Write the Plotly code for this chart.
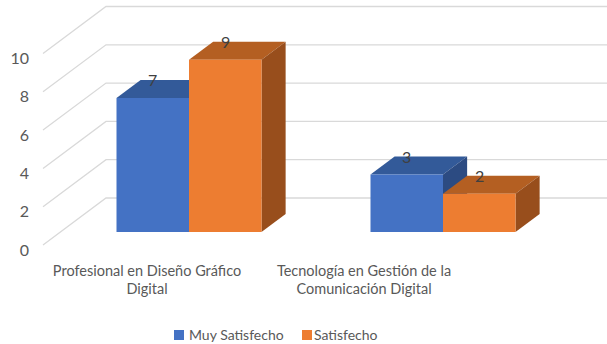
import plotly.graph_objects as go

# ---- data -------------------------------------------------------------
categories = ["Profesional en Diseño Gráfico<br>Digital",
              "Tecnología en Gestión de la<br>Comunicación Digital"]
series_names = ["Muy Satisfecho", "Satisfecho"]
muy_satisfecho = [7, 3]
satisfecho = [9, 2]
y_ticks = [0, 2, 4, 6, 8, 10]

# ---- styling / pseudo-3D geometry ------------------------------------
FONT = "Lato"
TEXT_GREY = "#595959"
LABEL_GREY = "#404040"
GRID = "#D9D9D9"
front_colors = ["#4472C4", "#ED7D31"]
top_colors = ["#335A99", "#B45F22"]
side_colors = ["#2C4B82", "#984E1C"]

W, H = 607, 344
M_L, M_R, M_T, M_B = 40, 0, 0, 84
PX_PER_CAT = 254.0          # horizontal pixels between category centres
PX_PER_UNIT = 19.15         # vertical pixels per value unit
CAT0_PX = 189.0             # pixel x of first category centre
BASE_PX = 232.0             # pixel y of value 0 at the bars' front face

BAR_W = 72.5 / PX_PER_CAT   # bar width in category units
DEPTH_DX = 63.0 / PX_PER_CAT      # full floor depth, x units
DEPTH_DY = 47.0 / PX_PER_UNIT     # full floor depth, y units
BAR_D0, BAR_D1 = 13.0 / 47.0, 31.0 / 47.0   # bar front/back depth fractions
FLOOR_X0 = (43.0 - CAT0_PX) / PX_PER_CAT    # front-left corner of the floor

x_range = [(M_L - CAT0_PX) / PX_PER_CAT, (W - M_R - CAT0_PX) / PX_PER_CAT]
y_range = [(BASE_PX - (H - M_B)) / PX_PER_UNIT, (BASE_PX - M_T) / PX_PER_UNIT]

label_x = [(147.0 - CAT0_PX) / PX_PER_CAT, (364.0 - CAT0_PX) / PX_PER_CAT]

fig = go.Figure()
shapes = []

# gridlines: diagonal along the side wall, then flat along the back wall
for v in y_ticks:
    yf = v - BAR_D0 * DEPTH_DY
    yb = v + (1 - BAR_D0) * DEPTH_DY
    xb = FLOOR_X0 + DEPTH_DX
    shapes.append(dict(type="path", xref="x", yref="y", layer="below",
                       path=f"M{FLOOR_X0},{yf} L{xb},{yb} L{x_range[1]},{yb}",
                       line=dict(color=GRID, width=1.3)))

ddx = (BAR_D1 - BAR_D0) * DEPTH_DX
ddy = (BAR_D1 - BAR_D0) * DEPTH_DY
all_series = [muy_satisfecho, satisfecho]
offsets = [-BAR_W, 0.0]

for i, cat in enumerate(categories):
    for s, vals in enumerate(all_series):
        v = vals[i]
        x0 = i + offsets[s]
        x1 = x0 + BAR_W
        # top face
        shapes.append(dict(type="path", xref="x", yref="y", layer="below",
                           path=(f"M{x0},{v} L{x1},{v} L{x1+ddx},{v+ddy} "
                                 f"L{x0+ddx},{v+ddy} Z"),
                           fillcolor=top_colors[s], line=dict(width=0)))
        # right side face
        shapes.append(dict(type="path", xref="x", yref="y", layer="below",
                           path=(f"M{x1},0 L{x1},{v} L{x1+ddx},{v+ddy} "
                                 f"L{x1+ddx},{ddy} Z"),
                           fillcolor=side_colors[s], line=dict(width=0)))

# front faces
for s, vals in enumerate(all_series):
    fig.add_trace(go.Bar(
        x=list(range(len(categories))), y=vals, name=series_names[s],
        width=BAR_W, offset=offsets[s],
        marker=dict(color=front_colors[s], line=dict(width=0)),
        showlegend=False, hoverinfo="name+y"))

# value labels sitting on the back edge of the top faces
annotations = []
for s, vals in enumerate(all_series):
    for i, v in enumerate(vals):
        annotations.append(dict(
            x=i + offsets[s] + BAR_W / 2, y=v + ddy, xref="x", yref="y",
            text=str(v), showarrow=False, yanchor="middle",
            font=dict(family=FONT, size=16, color=LABEL_GREY)))

# legend row
legend_px = [(174.0, 187.0), (302.0, 312.0)]
for s, (sq_px, txt_px) in enumerate(legend_px):
    shapes.append(dict(type="rect", xref="paper", yref="paper",
                       x0=(sq_px - M_L) / (W - M_L - M_R),
                       x1=(sq_px + 10 - M_L) / (W - M_L - M_R),
                       y0=-(335 + 5 - (H - M_B)) / (H - M_T - M_B),
                       y1=-(335 - 5 - (H - M_B)) / (H - M_T - M_B),
                       fillcolor=front_colors[s], line=dict(width=0)))
    annotations.append(dict(
        x=(txt_px - M_L) / (W - M_L - M_R), xref="paper", xanchor="left",
        y=-(335 - (H - M_B)) / (H - M_T - M_B), yref="paper", yanchor="middle",
        text=series_names[s], showarrow=False,
        font=dict(family=FONT, size=14, color=TEXT_GREY)))

fig.update_layout(
    width=W, height=H,
    margin=dict(l=M_L, r=M_R, t=M_T, b=M_B),
    paper_bgcolor="white", plot_bgcolor="white",
    barmode="overlay",
    shapes=shapes, annotations=annotations,
    font=dict(family=FONT, size=14.5, color=TEXT_GREY),
    xaxis=dict(range=x_range, showgrid=False, zeroline=False, showline=False,
               tickmode="array", tickvals=label_x, ticktext=categories,
               ticks="", ticklabelstandoff=0, fixedrange=True),
    yaxis=dict(range=y_range, showgrid=False, zeroline=False, showline=False,
               tickmode="array",
               tickvals=[v - BAR_D0 * DEPTH_DY for v in y_ticks],
               ticktext=[str(v) for v in y_ticks],
               tickfont=dict(size=16),
               ticks="", ticklabelstandoff=10, ticklabelshift=5,
               fixedrange=True),
)

fig.write_html("out.html")
